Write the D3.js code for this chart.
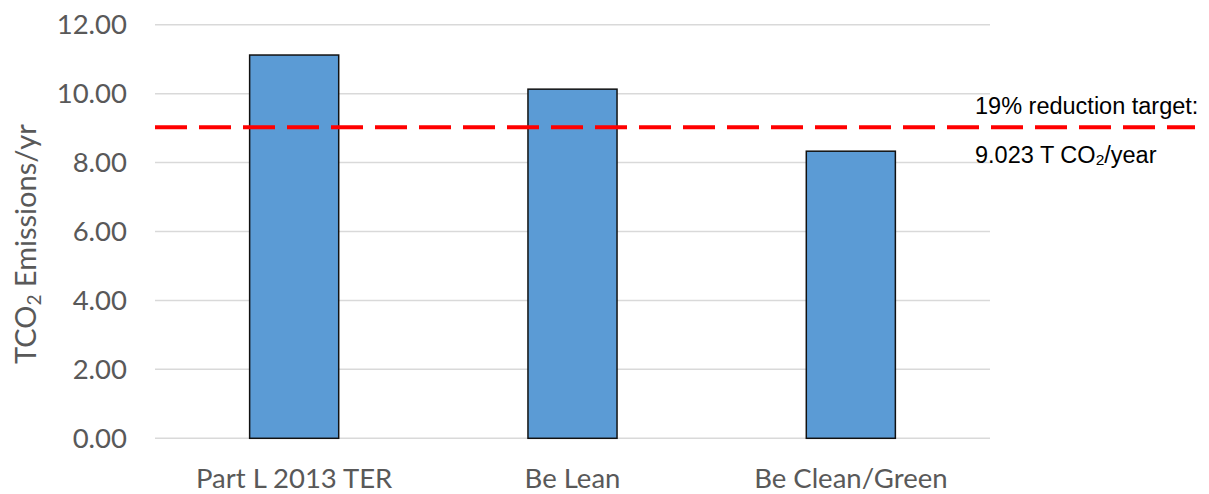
<!DOCTYPE html>
<html><head><meta charset="utf-8">
<script src="https://cdn.jsdelivr.net/npm/d3@7"></script>
<style>body{margin:0;background:#fff}svg{display:block}</style>
</head><body>
<svg id="c" width="1209" height="494"></svg>
<script>
const categories = ["Part L 2013 TER", "Be Lean", "Be Clean/Green"];
const emissions = [11.12, 10.13, 8.33];
const yTicks = [0, 2, 4, 6, 8, 10, 12];
const targetValue = [9.023];
const targetLabel = ["19% reduction target:", "9.023 T CO", "2", "/year"];

const svg = d3.select("#c");
const plotLeft = 155, plotRight = 990, plotTop = 24.7, plotBottom = 438.3;
const x = d3.scaleBand().domain(categories).range([plotLeft, plotRight]).paddingInner(0.68).paddingOuter(0.34);
const y = d3.scaleLinear().domain([0, 12]).range([plotBottom, plotTop]);

// gridlines
svg.append("g").selectAll("line").data(yTicks).join("line")
  .attr("x1", plotLeft).attr("x2", plotRight)
  .attr("y1", d => y(d)).attr("y2", d => y(d))
  .attr("stroke", "#d9d9d9").attr("stroke-width", 1.5);

// y axis
const yAxis = svg.append("g").attr("transform", `translate(${plotLeft},0)`)
  .call(d3.axisLeft(y).tickValues(yTicks).tickFormat(d3.format(".2f")).tickSize(0).tickPadding(28));
yAxis.select(".domain").remove();
yAxis.selectAll("text").attr("font-family", "Lato, sans-serif").attr("font-size", 27.5).attr("fill", "#595959");

// x axis
const xAxis = svg.append("g").attr("transform", `translate(0,${plotBottom})`)
  .call(d3.axisBottom(x).tickSize(0).tickPadding(30));
xAxis.select(".domain").remove();
xAxis.selectAll("text").attr("font-family", "Lato, sans-serif").attr("font-size", 27.5).attr("fill", "#595959");

// bars
svg.append("g").selectAll("rect").data(emissions).join("rect")
  .attr("x", (d, i) => x(categories[i]))
  .attr("width", x.bandwidth())
  .attr("y", d => y(d))
  .attr("height", d => y(0) - y(d))
  .attr("fill", "#5b9bd5").attr("stroke", "#111").attr("stroke-width", 1.5);

// target line
svg.append("g").selectAll("line").data(targetValue).join("line")
  .attr("x1", plotLeft).attr("x2", 1195)
  .attr("y1", d => y(d)).attr("y2", d => y(d))
  .attr("stroke", "#ff0000").attr("stroke-width", 4).attr("stroke-dasharray", "32 12");

// annotation
svg.append("text").attr("x", 975).attr("y", y(targetValue[0]) - 13)
  .attr("font-family", "Liberation Sans, Arial, sans-serif").attr("font-size", 23.5).attr("fill", "#000")
  .text(targetLabel[0]);
const t2 = svg.append("text").attr("x", 975).attr("y", y(targetValue[0]) + 36)
  .attr("font-family", "Liberation Sans, Arial, sans-serif").attr("font-size", 23.5).attr("fill", "#000");
t2.append("tspan").text(targetLabel[1]);
t2.append("tspan").attr("font-size", 15.5).attr("dy", 2).text(targetLabel[2]);
t2.append("tspan").attr("dy", -2).text(targetLabel[3]);

// y title
const yt = svg.append("text").attr("transform", `translate(36,364) rotate(-90)`)
  .attr("text-anchor", "start").attr("font-family", "Lato, sans-serif").attr("font-size", 29).attr("fill", "#595959");
yt.append("tspan").text("TCO");
yt.append("tspan").attr("font-size", 19).attr("dy", 5).text("2");
yt.append("tspan").attr("dy", -5).text(" Emissions/yr");
</script>
</body></html>
